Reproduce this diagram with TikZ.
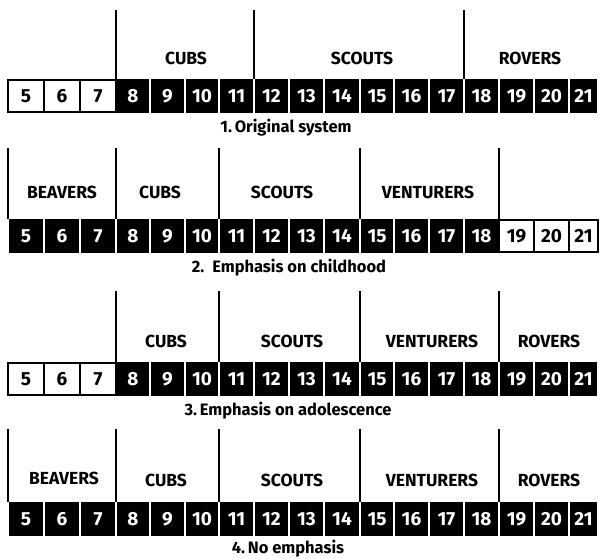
\documentclass[tikz,border=0pt]{standalone}
\usepackage{fontspec}
\setmainfont{Fira Sans}
% cell edges: age/left/right
\newcommand{\celledges}{5/8/44,6/44/80,7/80/116,8/116/150,9/150/185,10/185/219,11/219/254,12/254/289,13/289/324,14/324/360,15/360/394,16/394/429,17/429/464,18/464/499,19/499/534,20/534/569,21/569/598}
% #1 row name, #2 y of centre, #3 first dark age, #4 last dark age
\newcommand{\agerow}[4]{%
  \foreach \n/\l/\r in \celledges {
    \ifnum\n<#3 \def\bg{white}\def\fg{black}\def\gap{0}%
    \else\ifnum\n>#4 \def\bg{white}\def\fg{black}\def\gap{0}%
    \else\def\bg{black}\def\fg{white}\def\gap{3.5}\fi\fi
    \node[agecell, fill=\bg, text=\fg, minimum width=\r-\l-\gap] (#1c\n) at ({(\l+\r)/2},#2) {\n};
  }}

\begin{document}
\begin{tikzpicture}[x=1pt,y=-1pt,
  agecell/.style={draw=black,line width=1.5pt,minimum height=32pt,inner sep=0pt,
    font=\bfseries\fontsize{19}{19}\selectfont},
  divider/.style={line width=1.2pt},
  section/.style={font=\bfseries\fontsize{17.5}{17.5}\selectfont},
  caption/.style={font=\bfseries\fontsize{16.5}{16.5}\selectfont}]
  \useasboundingbox (0,0) rectangle (600,558);

  % 1. Original system
  \agerow{a}{96}{8}{21}
  \coordinate (a1) at (116,10);
  \coordinate (a2) at (254,10);
  \coordinate (a3) at (464,10);
  \draw[divider] (a1) -- (a1 |- ac8.north);
  \draw[divider] (a2) -- (a2 |- ac12.north);
  \draw[divider] (a3) -- (a3 |- ac18.north);
  \node[section] (acubs) at (186,58) {CUBS};
  \node[section] (ascouts) at (362,58) {SCOUTS};
  \node[section] (arovers) at (530,58) {ROVERS};
  \node[caption] (acap) at (286,128) {1.\,Original system};

  % 2. Emphasis on childhood
  \agerow{b}{236}{5}{18}
  \coordinate (b0) at (8,148);
  \coordinate (b1) at (116,148);
  \coordinate (b2) at (219,148);
  \coordinate (b3) at (360,148);
  \coordinate (b4) at (499,148);
  \draw[divider] (b0) -- (b0 |- bc5.north);
  \draw[divider] (b1) -- (b1 |- bc8.north);
  \draw[divider] (b2) -- (b2 |- bc11.north);
  \draw[divider] (b3) -- (b3 |- bc15.north);
  \draw[divider] (b4) -- (b4 |- bc19.north);
  \node[section] (bbeavers) at (62,192) {BEAVERS};
  \node[section] (bcubs) at (160,192) {CUBS};
  \node[section] (bscouts) at (282,192) {SCOUTS};
  \node[section] (bventurers) at (428,192) {VENTURERS};
  \node[caption] (bcap) at (289,268) {2.\ \ Emphasis on childhood};

  % 3. Emphasis on adolescence
  \agerow{c}{379}{8}{21}
  \coordinate (c1) at (116,291);
  \coordinate (c2) at (219,291);
  \coordinate (c3) at (360,291);
  \coordinate (c4) at (499,291);
  \draw[divider] (c1) -- (c1 |- cc8.north);
  \draw[divider] (c2) -- (c2 |- cc11.north);
  \draw[divider] (c3) -- (c3 |- cc15.north);
  \draw[divider] (c4) -- (c4 |- cc19.north);
  \node[section] (ccubs) at (166,341) {CUBS};
  \node[section] (cscouts) at (292,341) {SCOUTS};
  \node[section] (cventurers) at (432,341) {VENTURERS};
  \node[section] (crovers) at (549,341) {ROVERS};
  \node[caption] (ccap) at (288,411) {3.\,Emphasis on adolescence};

  % 4. No emphasis
  \agerow{d}{519}{5}{21}
  \coordinate (d0) at (8,429);
  \coordinate (d1) at (116,429);
  \coordinate (d2) at (219,429);
  \coordinate (d3) at (360,429);
  \coordinate (d4) at (499,429);
  \draw[divider] (d0) -- (d0 |- dc5.north);
  \draw[divider] (d1) -- (d1 |- dc8.north);
  \draw[divider] (d2) -- (d2 |- dc11.north);
  \draw[divider] (d3) -- (d3 |- dc15.north);
  \draw[divider] (d4) -- (d4 |- dc19.north);
  \node[section] (dbeavers) at (64,478) {BEAVERS};
  \node[section] (dcubs) at (166,480) {CUBS};
  \node[section] (dscouts) at (292,480) {SCOUTS};
  \node[section] (dventurers) at (432,480) {VENTURERS};
  \node[section] (drovers) at (549,480) {ROVERS};
  \node[caption] (dcap) at (288,549) {4.\,No emphasis};
\end{tikzpicture}
\end{document}
